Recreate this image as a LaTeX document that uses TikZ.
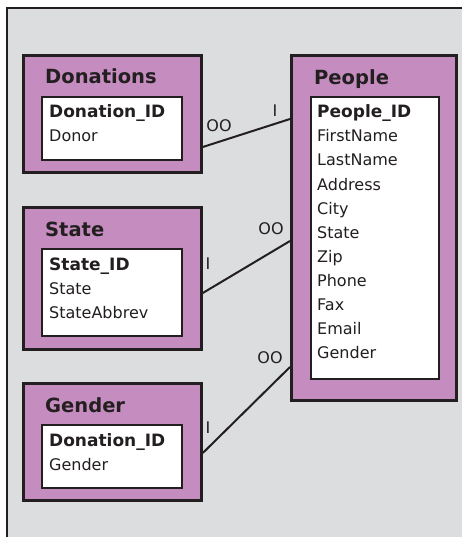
\documentclass[tikz,border=0pt]{standalone}
\usepackage{fontspec}
\setmainfont{DejaVu Sans}
\usetikzlibrary{positioning}

\definecolor{panelgray}{HTML}{DCDDDF}
\definecolor{tablepink}{HTML}{C58CBF}
\definecolor{inkline}{HTML}{231F20}

\tikzset{
	tablebox/.style={draw=inkline, fill=tablepink, line width=2.8pt, anchor=north west, inner sep=0pt},
	fieldbox/.style={draw=inkline, fill=white, line width=1.6pt, anchor=north west, inner sep=0pt},
	title/.style={anchor=base west, inner sep=0pt, text=inkline, font=\fontsize{19.5}{22}\selectfont\bfseries},
	keyfield/.style={anchor=base west, inner sep=0pt, text=inkline, font=\fontsize{17}{20}\selectfont\bfseries},
	field/.style={anchor=base west, inner sep=0pt, text=inkline, font=\fontsize{16}{19}\selectfont},
	card/.style={inner sep=0pt, text=inkline, font=\fontsize{16}{19}\selectfont},
	link/.style={draw=inkline, line width=2pt}
}

\begin{document}
\begin{tikzpicture}[x=1pt, y=-1pt]
	\useasboundingbox (0,0) rectangle (462,537);

	%the panel, cut off at the right and bottom
	\draw[inkline, fill=panelgray, line width=2.8pt] (7,8) rectangle (520,600);

	%the tables
	\node[tablebox, minimum width=178pt, minimum height=117pt] (don) at (22,54) {};
	\node[fieldbox, minimum width=140pt, minimum height=63pt] (donf) at (41,96) {};
	\node[tablebox, minimum width=178pt, minimum height=142pt] (st) at (22,206) {};
	\node[fieldbox, minimum width=140pt, minimum height=87pt] (stf) at (41,248) {};
	\node[tablebox, minimum width=178pt, minimum height=117pt] (gen) at (22,382) {};
	\node[fieldbox, minimum width=140pt, minimum height=63pt] (genf) at (41,424) {};
	\node[tablebox, minimum width=165pt, minimum height=345pt] (ppl) at (290,54) {};
	\node[fieldbox, minimum width=128pt, minimum height=282pt] (pplf) at (310,96) {};

	%Donations
	\node[title] at (45,84) {Donations};
	\node[keyfield] at (49,118) {Donation\_ID};
	\node[field] at (49,142) {Donor};

	%State
	\node[title] at (45,236) {State};
	\node[keyfield] at (49,270) {State\_ID};
	\node[field] at (49,294) {State};
	\node[field] at (49,318) {StateAbbrev};

	%Gender
	\node[title] at (45,412) {Gender};
	\node[keyfield] at (49,446) {Donation\_ID};
	\node[field] at (49,470) {Gender};

	%People
	\node[title] at (314,85) {People};
	\node[keyfield] at (317,118) {People\_ID};
	\foreach \f [count=\i] in {FirstName,LastName,Address,City,State,Zip,Phone,Fax,Email,Gender}
		\node[field] at (317,118+24*\i) {\f};

	%the links with their cardinalities
	\draw[link] ([yshift=-93pt]don.north east) -- ([yshift=-65pt]ppl.north west);
	\node[card] (don-many) at (219,126) {OO};
	\node[card] (don-one) at (275,111) {I};

	\draw[link] ([yshift=-87pt]st.north east) -- ([yshift=-187pt]ppl.north west);
	\node[card] (st-many) at (271,229) {OO};
	\node[card] (st-one) at (208,264) {I};

	\draw[link] ([yshift=-71pt]gen.north east) -- ([yshift=-313pt]ppl.north west);
	\node[card] (gen-many) at (270,358) {OO};
	\node[card] (gen-one) at (208,428) {I};

\end{tikzpicture}
\end{document}
